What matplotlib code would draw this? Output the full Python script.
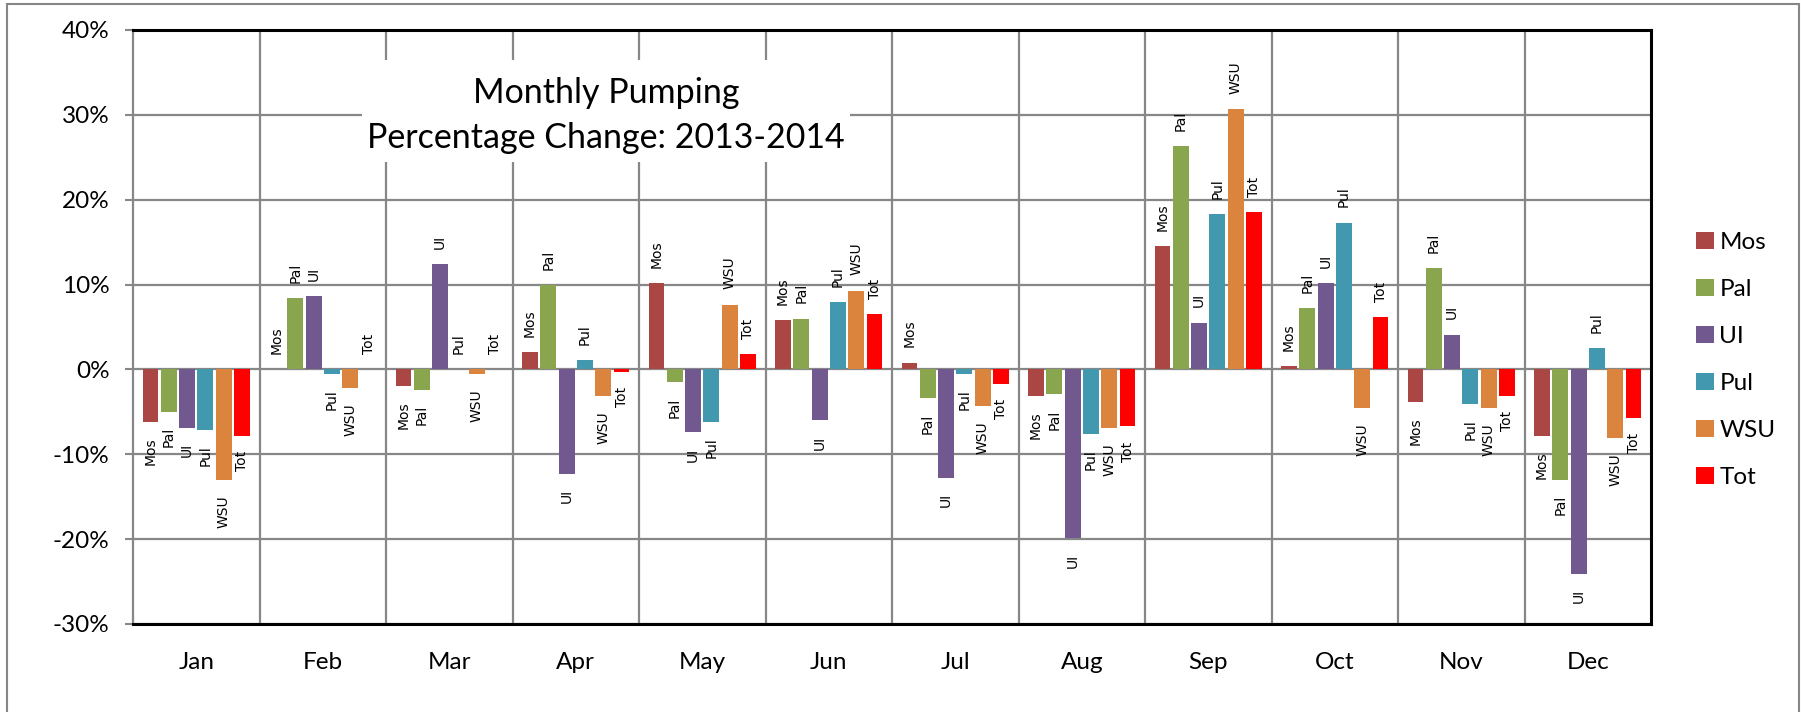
import numpy as np
import matplotlib
matplotlib.use("Agg")
import matplotlib.pyplot as plt
from matplotlib.patches import Rectangle

months = ["Jan", "Feb", "Mar", "Apr", "May", "Jun", "Jul", "Aug", "Sep", "Oct", "Nov", "Dec"]
series_names = ["Mos", "Pal", "UI", "Pul", "WSU", "Tot"]

mos = [-6.2, 0.0, -2.0, 2.0, 10.2, 5.8, 0.8, -3.1, 14.5, 0.35, -3.85, -7.85]
pal = [-5.0, 8.4, -2.4, 9.9, -1.5, 6.0, -3.4, -2.9, 26.3, 7.2, 11.9, -13.0]
ui = [-6.9, 8.6, 12.4, -12.3, -7.4, -6.0, -12.8, -19.9, 5.5, 10.2, 4.1, -24.1]
pul = [-7.1, -0.55, 0.0, 1.06, -6.2, 7.9, -0.55, -7.6, 18.3, 17.3, -4.1, 2.5]
wsu = [-13.0, -2.2, -0.55, -3.1, 7.65, 9.3, -4.3, -6.9, 30.7, -4.6, -4.6, -8.1]
tot = [-7.8, 0.0, 0.0, -0.3, 1.77, 6.5, -1.7, -6.7, 18.5, 6.2, -3.1, -5.7]

yticks = [-30, -20, -10, 0, 10, 20, 30, 40]
title_lines = ["Monthly Pumping", "Percentage Change: 2013-2014"]

colors = ["#AA4643", "#89A54E", "#71588F", "#4198AF", "#DB843D", "#FF0000"]
all_series = [mos, pal, ui, pul, wsu, tot]

W, H = 1801, 712
fig = plt.figure(figsize=(W / 100, H / 100), dpi=100)
fig.patch.set_facecolor("white")

L, R, T, B = 133, 1651, 30, 624
ax = fig.add_axes([L / W, 1 - B / H, (R - L) / W, (B - T) / H])

x = np.arange(len(months))
pitch = 0.1447
bw = 0.126
for i, (name, vals, c) in enumerate(zip(series_names, all_series, colors)):
    xs = x + (i - 2.5) * pitch
    ax.bar(xs, vals, width=bw, color=c, label=name, zorder=3)
    for xi, v in zip(xs, vals):
        if v >= 0:
            ax.annotate(name, xy=(xi, v), xytext=(0, 11), textcoords="offset points",
                        rotation=90, ha="center", va="bottom", fontsize=10,
                        family="DejaVu Sans", color="black", zorder=4)
        else:
            ax.annotate(name, xy=(xi, v), xytext=(0, -11), textcoords="offset points",
                        rotation=90, ha="center", va="top", fontsize=10,
                        family="DejaVu Sans", color="black", zorder=4)

ax.set_xlim(-0.5, 11.5)
ax.set_ylim(-30, 40)
ax.set_yticks(yticks)
ax.set_yticklabels([f"{t}%" for t in yticks], family="Lato", fontsize=17.5)
ax.set_xticks(x)
ax.set_xticklabels(months, family="Lato", fontsize=17.5)
ax.set_xticks(np.arange(0.5, 11.5, 1), minor=True)

grid_c = "#878787"
ax.grid(axis="y", which="major", color=grid_c, linewidth=1.6, zorder=1)
ax.grid(axis="x", which="minor", color=grid_c, linewidth=1.6, zorder=1)
ax.set_axisbelow(True)

ax.tick_params(axis="y", which="major", length=6, width=1.5, color=grid_c, pad=11)
ax.tick_params(axis="x", which="major", length=0, pad=20)
ax.tick_params(axis="x", which="minor", length=0)

for s in ["top", "right", "bottom"]:
    ax.spines[s].set_color("black")
    ax.spines[s].set_linewidth(2.2)
    ax.spines[s].set_zorder(5)
ax.spines["left"].set_color(grid_c)
ax.spines["left"].set_linewidth(1.6)

# title box
fig.add_artist(Rectangle((362 / W, 1 - 162 / H), (850 - 362) / W, (162 - 60) / H,
                         transform=fig.transFigure, facecolor="white", edgecolor="none", zorder=2))
fig.text(606 / W, 1 - 103 / H, title_lines[0], ha="center", va="baseline",
         family="Lato", fontsize=24.5, zorder=3)
fig.text(606 / W, 1 - 148 / H, title_lines[1], ha="center", va="baseline",
         family="Lato", fontsize=24.5, zorder=3)

# outer frame
fig.add_artist(Rectangle((7 / W, -0.05), (1799 - 7) / W, 1.05 - 4 / H,
                         transform=fig.transFigure, facecolor="none",
                         edgecolor="#868686", linewidth=1.5, zorder=6))

leg = fig.legend(loc="center left", bbox_to_anchor=(1696 / W, 1 - 360 / H),
                 frameon=False, prop={"family": "Lato", "size": 17.5},
                 handlelength=0.74, handleheight=0.66, handletextpad=0.22,
                 labelspacing=1.07, borderpad=0, borderaxespad=0)

fig.savefig("out.png", dpi=100)
